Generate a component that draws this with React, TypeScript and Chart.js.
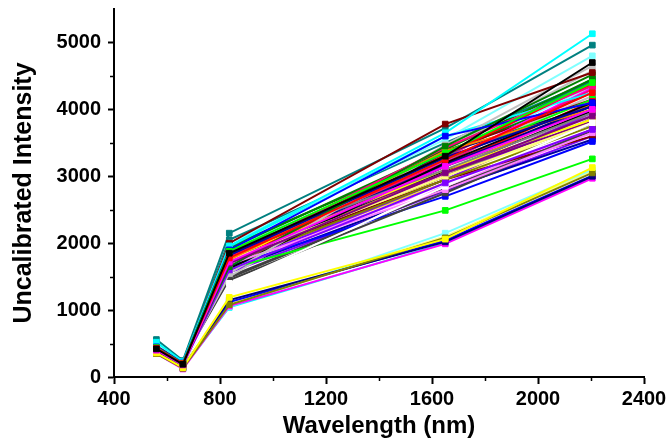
import React, { useEffect, useRef } from "react";
import { Chart, registerables } from "chart.js";

Chart.register(...registerables);

// Band centre wavelengths (nm)
const wavelengths = [560, 660, 835, 1650, 2205];

// Intensity per sample at each band (one entry per sample line)
const band560 = [
  420, 430, 440, 450, 520, 400, 360, 350, 370, 410, 460, 450, 560, 430, 420, 400, 430, 420, 440, 430, 380, 500, 400, 410,
  430, 440, 420, 430, 480, 350, 380, 400, 420, 410, 430, 440, 500, 420, 430, 410, 460, 420, 430, 420, 370, 360, 400, 410,
  420, 430, 440, 360, 350, 420, 370, 400, 430, 410, 440, 450, 480, 420, 430, 400, 430, 420, 440, 430, 380, 470, 410, 420,
];
const band660 = [
  190, 200, 205, 210, 230, 180, 140, 130, 145, 185, 215, 205, 245, 195, 190, 180, 195, 190, 200, 195, 160, 225, 175, 185,
  200, 205, 180, 190, 220, 120, 160, 180, 195, 185, 195, 200, 230, 190, 195, 185, 210, 190, 195, 190, 150, 135, 180, 190,
  195, 200, 205, 140, 130, 190, 150, 180, 195, 185, 200, 210, 220, 190, 195, 180, 200, 190, 200, 195, 150, 215, 185, 190,
];
const band835 = [
  1850, 1780, 1880, 1900, 1960, 1720, 1190, 1080, 1150, 1700, 2000, 1650, 2150, 1820, 1750, 1600, 1800, 1400, 1550, 1900, 1750, 2000, 1680, 1450,
  1620, 1700, 1620, 1650, 1950, 1060, 1780, 1700, 1680, 1850, 1750, 1920, 2050, 1780, 1720, 1650, 1850, 1300, 1500, 1750, 1800, 1050, 1700, 1500,
  1760, 1800, 1820, 1120, 1040, 1850, 1720, 1680, 1700, 1760, 1790, 1950, 1850, 1600, 1780, 1560, 1830, 1850, 1600, 1880, 1090, 1900, 1820, 1480,
];
const band1650 = [
  3300, 3250, 3350, 3600, 3650, 3150, 2060, 2080, 2020, 3050, 3780, 3450, 3720, 3280, 3380, 2900, 3430, 2850, 3470, 3100, 3000, 3550, 2800, 2750,
  3200, 3320, 2490, 2700, 3600, 1990, 3100, 2950, 3150, 3050, 2950, 3400, 3500, 3180, 3050, 2950, 3200, 2900, 3400, 3050, 2950, 2150, 2850, 2800,
  3080, 3150, 3250, 2040, 2000, 3220, 2900, 3000, 3350, 2950, 3380, 3350, 3300, 2800, 3200, 2780, 3280, 3100, 3250, 3150, 2100, 3300, 3020, 2820,
];
const band2205 = [
  4700, 4250, 4400, 4100, 5130, 4000, 3130, 3050, 3000, 3900, 4550, 4520, 4960, 4050, 4000, 3700, 4350, 3800, 4650, 3950, 3800, 4800, 3650, 3700,
  4100, 4380, 3260, 3520, 4250, 2970, 3850, 3750, 4050, 3820, 3600, 4450, 4420, 4000, 4080, 3950, 4300, 3900, 4580, 3780, 3820, 3100, 3700, 3680,
  3980, 4120, 4150, 3010, 2990, 4320, 3860, 3900, 4050, 3880, 4150, 4250, 4450, 3550, 4000, 3600, 4420, 3950, 4200, 3900, 3080, 4350, 3920, 3700,
];

// Line colours cycle through this list
const palette = [
  "#000000", "#FF0000", "#00FF00", "#0000FF", "#00FFFF", "#FF00FF", "#FFFF00", "#808000",
  "#000080", "#800080", "#800000", "#008000", "#008080", "#0000A0", "#FF8000", "#8000FF",
  "#FF0080", "#FFFFFF", "#C0C0C0", "#808080", "#FFFF80", "#80FFFF", "#FF80FF", "#404040",
];

const xMajorTicks = [400, 800, 1200, 1600, 2000, 2400];
const xMinorTicks = [600, 1000, 1400, 1800, 2200];
const yMajorTicks = [0, 1000, 2000, 3000, 4000, 5000];
const yMinorTicks = [500, 1500, 2500, 3500, 4500];

const FONT = "'Liberation Sans', Arial, sans-serif";

const minorTicksPlugin = {
  id: "minorTicks",
  afterDraw(chart: any) {
    const { ctx, chartArea } = chart;
    const xs = chart.scales.x;
    const ys = chart.scales.y;
    ctx.save();
    ctx.strokeStyle = "#000";
    ctx.lineWidth = 1.5;
    ctx.beginPath();
    xMinorTicks.forEach((v) => {
      const px = Math.round(xs.getPixelForValue(v)) + 0.5;
      ctx.moveTo(px, chartArea.bottom);
      ctx.lineTo(px, chartArea.bottom + 4);
    });
    yMinorTicks.forEach((v) => {
      const py = Math.round(ys.getPixelForValue(v)) + 0.5;
      ctx.moveTo(chartArea.left, py);
      ctx.lineTo(chartArea.left - 4, py);
    });
    ctx.stroke();
    ctx.restore();
  },
};

export default function App() {
  const canvasRef = useRef<HTMLCanvasElement | null>(null);

  useEffect(() => {
    if (!canvasRef.current) return;
    const datasets = band560.map((_, i) => {
      const color = palette[i % palette.length];
      const values = [band560[i], band660[i], band835[i], band1650[i], band2205[i]];
      return {
        label: `Sample ${i + 1}`,
        data: wavelengths.map((w, k) => ({ x: w, y: values[k] })),
        borderColor: color,
        backgroundColor: color,
        borderWidth: 2,
        pointStyle: "rect",
        pointRadius: 4,
        pointBorderWidth: 1,
        pointBorderColor: color,
        pointBackgroundColor: color,
        tension: 0,
      };
    });

    const chart = new Chart(canvasRef.current, {
      type: "line",
      data: { datasets },
      options: {
        animation: false,
        responsive: false,
        devicePixelRatio: 1,
        layout: { padding: { left: 0, right: 26, top: 9, bottom: 0 } },
        plugins: { legend: { display: false }, tooltip: { enabled: false } },
        scales: {
          x: {
            type: "linear",
            min: 400,
            max: 2400,
            afterBuildTicks: (s: any) => {
              s.ticks = xMajorTicks.map((v) => ({ value: v }));
            },
            afterFit: (s: any) => {
              s.height = 67;
              s.paddingLeft = 0;
              s.paddingRight = 0;
            },
            grid: {
              display: true,
              drawOnChartArea: false,
              drawTicks: true,
              tickLength: 7,
              tickWidth: 2,
              tickColor: "#000",
              color: "#000",
            },
            border: { display: true, color: "#000", width: 2 },
            ticks: {
              color: "#000",
              padding: 3,
              maxRotation: 0,
              autoSkip: false,
              callback: (v: any) => String(v),
              font: { family: FONT, size: 20, weight: "bold" },
            },
            title: {
              display: true,
              text: "Wavelength (nm)",
              color: "#000",
              padding: { top: 0, bottom: 3 },
              font: { family: FONT, size: 24, weight: "bold" },
            },
          },
          y: {
            type: "linear",
            min: 0,
            max: 5500,
            afterBuildTicks: (s: any) => {
              s.ticks = yMajorTicks.map((v) => ({ value: v }));
            },
            afterFit: (s: any) => {
              s.width = 114;
              s.paddingTop = 0;
              s.paddingBottom = 0;
            },
            grid: {
              display: true,
              drawOnChartArea: false,
              drawTicks: true,
              tickLength: 6,
              tickWidth: 2,
              tickColor: "#000",
              color: "#000",
            },
            border: { display: true, color: "#000", width: 2 },
            ticks: {
              color: "#000",
              padding: 7,
              autoSkip: false,
              callback: (v: any) => String(v),
              font: { family: FONT, size: 20, weight: "bold" },
            },
            title: {
              display: true,
              text: "Uncalibrated Intensity",
              color: "#000",
              padding: { top: 9, bottom: 0 },
              font: { family: FONT, size: 25, weight: "bold" },
            },
          },
        },
      },
      plugins: [minorTicksPlugin],
    } as any);

    return () => chart.destroy();
  }, []);

  return (
    <div style={{ position: "absolute", left: 0, top: 0, width: 670, height: 444, background: "#fff" }}>
      <canvas ref={canvasRef} width={670} height={444} style={{ display: "block" }} />
    </div>
  );
}
